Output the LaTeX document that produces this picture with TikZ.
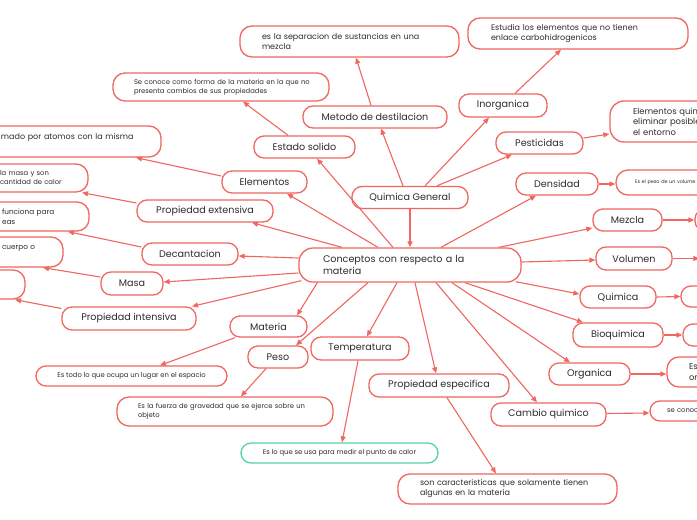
\documentclass[tikz,border=0pt]{standalone}
\usepackage{fontspec}
\setmainfont{Poppins}
\usetikzlibrary{arrows.meta}
\definecolor{bord}{RGB}{240,102,96}
\definecolor{grn}{RGB}{84,212,164}
\definecolor{txt}{RGB}{45,45,45}
\tikzset{
  box/.style={draw=bord, line width=1.3pt, fill=white, text=txt, inner sep=0pt},
  topic/.style={box, rounded corners=10pt, font=\fontsize{9.6}{12}\selectfont, align=center},
  desc/.style={box, rounded corners=12pt, align=left},
  fa/.style={font=\fontsize{8}{10}\selectfont},
  fb/.style={font=\fontsize{6.8}{9}\selectfont},
  arr/.style={draw=bord, line width=1.1pt, -{Triangle[length=6pt,width=5pt]}},
}
\newcommand{\bx}[4]{minimum width=#1pt, minimum height=#2pt}
\begin{document}
\begin{tikzpicture}[x=1pt,y=-1pt]
\useasboundingbox (0,0) rectangle (697,520);
\fill[white] (0,0) rectangle (697,520);
\clip (0,0) rectangle (697,520);
% central and main topics
\node[desc, font=\fontsize{9.6}{12}\selectfont, rounded corners=14pt, minimum height=34pt, text width=174pt, inner xsep=24pt] (C) at (410,265) {\mbox{Conceptos con respecto a la}\\\mbox{materia}};
\node[topic, minimum width=116pt, minimum height=22pt] (QG) at (410,197.5) {Quimica General};
\node[topic, minimum width=144pt, minimum height=22pt] (Met) at (375,117) {Metodo de destilacion};
\node[desc, fa, minimum height=31pt, text width=175pt, inner xsep=22pt] (Sep) at (349.5,41.5) {\mbox{es la separacion de sustancias en una}\\\mbox{mezcla}};
\node[topic, minimum width=88pt, minimum height=23pt] (Ino) at (503,105.5) {Inorganica};
\node[desc, fa, minimum height=31pt, text width=174pt, inner xsep=23pt] (Est) at (578,33.5) {\mbox{Estudia los elementos que no tienen}\\\mbox{enlace carbohidrogenicos}};
\node[topic, minimum width=87pt, minimum height=22pt] (Pes) at (539.5,143) {Pesticidas};
\node[desc, font=\fontsize{8.4}{10.5}\selectfont, rounded corners=14pt, minimum height=41pt, text width=84pt, inner xsep=23pt] (EQ) at (675,121.5) {\mbox{Elementos quim}\\\mbox{eliminar posible}\\\mbox{el entorno}};
\node[topic, minimum width=101pt, minimum height=22pt] (ES) at (304.5,147) {Estado solido};
\node[desc, fb, minimum height=28pt, text width=174pt, inner xsep=21pt] (SeC) at (221,87) {\mbox{Se conoce como forma de la materia en la que no}\\\mbox{presenta cambios de sus propiedades}};
\node[topic, minimum width=85pt, minimum height=22pt] (Ele) at (264.5,182) {Elementos};
\node[desc, fa, minimum height=31pt, text width=129pt, inner xsep=31pt] (Mad) at (65.5,141.5) {\mbox{mado por atomos con la misma}\\\mbox{}};
\node[topic, minimum width=136pt, minimum height=22pt] (PEx) at (205,211) {Propiedad extensiva};
\node[desc, fb, minimum height=28pt, text width=58pt, inner xsep=30pt] (Mas2) at (29,178) {\mbox{la masa y son}\\\mbox{cantidad de calor}};
\node[topic, minimum width=96pt, minimum height=22pt] (Dec) at (190,254) {Decantacion};
\node[desc, font=\fontsize{7.3}{10}\selectfont, minimum height=29pt, text width=55pt, inner xsep=32pt] (Fun) at (29.5,216.5) {\mbox{funciona para}\\\mbox{eas}};
\node[topic, minimum width=62pt, minimum height=23pt] (Masa) at (132,283.5) {Masa};
\node[desc, font=\fontsize{7.3}{10}\selectfont, minimum height=30pt, text width=29pt, inner xsep=32pt] (Cue) at (16.5,252) {\mbox{cuerpo o}\\\mbox{}};
\node[box, rounded corners=12pt, minimum width=55pt, minimum height=29pt] (Last) at (-2.5,284.5) {};
\node[topic, minimum width=134pt, minimum height=23pt] (PIn) at (129,318.5) {Propiedad intensiva};
\node[topic, minimum width=77pt, minimum height=21pt] (Mat) at (268.5,326.5) {Materia};
\node[box, fb, rounded corners=10pt, minimum width=191pt, minimum height=20pt] (Tod) at (131.5,376) {Es todo lo que ocupa un lugar en el espacio};
\node[topic, minimum width=60pt, minimum height=22pt] (Peso) at (278,357) {Peso};
\node[desc, fb, minimum height=29pt, text width=174pt, inner xsep=21pt] (Fue) at (225,411.5) {\mbox{Es la fuerza de gravedad que se ejerce sobre un}\\\mbox{objeto}};
\node[topic, minimum width=98pt, minimum height=23pt] (Tem) at (360,348.5) {Temperatura};
\node[box, fb, draw=grn, rounded corners=10pt, minimum width=197pt, minimum height=20pt] (Pun) at (339.5,453) {Es lo que se usa para medir el punto de calor};
\node[topic, minimum width=140pt, minimum height=23pt] (PEs) at (439,385.5) {Propiedad especifica};
\node[desc, fa, minimum height=30pt, text width=175pt, inner xsep=22pt] (Son) at (507.5,489) {\mbox{son caracteristicas que solamente tienen}\\\mbox{algunas en la materia}};
\node[topic, minimum width=115pt, minimum height=23pt] (Cam) at (548.5,414.5) {Cambio quimico};
\node[desc, fb, rounded corners=10pt, minimum height=20pt, text width=76pt, inner xsep=17pt] (SeK) at (705,411) {\mbox{se conoc}};
\node[topic, minimum width=81pt, minimum height=22pt] (Org) at (589.5,374) {Organica};
\node[desc, font=\fontsize{8.4}{11.5}\selectfont, minimum height=30pt, text width=49pt, inner xsep=22pt] (EsO) at (713.5,372) {\mbox{Es}\\\mbox{or}};
\node[topic, minimum width=90pt, minimum height=24pt] (Bio) at (618,335) {Bioquimica};
\node[box, rounded corners=10pt, minimum width=77pt, minimum height=22pt] (BioN) at (721.5,335) {};
\node[topic, minimum width=76pt, minimum height=22pt] (Qui) at (618,297) {Quimica};
\node[box, rounded corners=10pt, minimum width=79pt, minimum height=21pt] (QuiN) at (720.5,296.5) {};
\node[topic, minimum width=76pt, minimum height=23pt] (Vol) at (634,258.5) {Volumen};
\node[box, rounded corners=10pt, minimum width=80pt, minimum height=22pt] (VolN) at (740,258.5) {};
\node[topic, minimum width=69pt, minimum height=22pt] (Mez) at (627.5,220) {Mezcla};
\node[box, rounded corners=10pt, minimum width=75pt, minimum height=22pt] (MezN) at (732.5,220) {};
\node[topic, minimum width=82pt, minimum height=22pt] (Den) at (557,184) {Densidad};
\node[desc, font=\fontsize{4.9}{6}\selectfont, minimum height=25pt, text width=86pt, inner xsep=19pt] (PesV) at (678,182.5) {\mbox{Es el peso de un volume}};
% connectors
\draw[arr] (QG.south) -- (C.north);
\draw[arr] ([xshift=-7pt]QG.north) -- ([xshift=6pt]Met.south);
\draw[arr] ([xshift=-4pt]Met.north) -- ([xshift=6.5pt]Sep.south);
\draw[arr] ([xshift=15pt]QG.north) -- ([xshift=-14pt]Ino.south);
\draw[arr] ([xshift=12pt]Ino.north) -- ([xshift=-17pt]Est.south);
\draw[arr] ([xshift=27pt]QG.north) -- ([xshift=-27.5pt]Pes.south);
\draw[arr] ([yshift=5pt]Pes.east) -- ([yshift=-12.5pt]EQ.west);
\draw[arr] ([xshift=-17pt]C.north) -- ([xshift=12.5pt]ES.south);
\draw[arr] ([xshift=-16.5pt]ES.north) -- ([xshift=22pt]SeC.south);
\draw[arr] ([xshift=-32pt]C.north) -- ([xshift=22.5pt]Ele.south);
\draw[arr] ([yshift=6pt]Ele.west) -- ([xshift=70.5pt]Mad.south);
\draw[arr] ([xshift=-68pt]C.north) -- ([xshift=47pt]PEx.south);
\draw[arr] ([yshift=8pt]PEx.west) -- ([xshift=53pt]Mas2.south);
\draw[arr] ([yshift=7pt]C.west) -- ([yshift=-2pt]Dec.east);
\draw[arr] ([yshift=7pt]Dec.west) -- ([xshift=38.5pt]Fun.south);
\draw[arr] ([yshift=-8pt]C.west) -- ([yshift=1.5pt]Masa.east);
\draw[arr] ([yshift=6.5pt]Masa.west) -- ([xshift=26.5pt]Cue.south);
\draw[arr] ([xshift=3pt,yshift=2pt]C.south west) -- ([xshift=63pt]PIn.north);
\draw[arr] ([yshift=10pt]PIn.west) -- ([xshift=17.5pt]Last.south);
\draw[arr] ([xshift=19pt]C.south west) -- ([xshift=28.5pt]Mat.north);
\draw[arr] ([xshift=-33.5pt]Mat.south) -- ([xshift=28.5pt]Tod.north);
\draw[arr] ([xshift=-42pt]C.south) -- ([xshift=18pt]Peso.north);
\draw[arr] ([xshift=-12pt]Peso.south) -- ([xshift=16pt]Fue.north);
\draw[arr] ([xshift=-13pt]C.south) -- ([xshift=7pt]Tem.north);
\draw[arr] ([xshift=-2pt]Tem.south) -- ([xshift=2.5pt]Pun.north);
\draw[arr] ([xshift=5pt]C.south) -- ([xshift=-3pt]PEs.north);
\draw[arr] ([xshift=8pt]PEs.south) -- ([xshift=-11.5pt]Son.north);
\draw[arr] ([xshift=26pt]C.south) -- ([xshift=-11.5pt]Cam.north);
\draw[arr] ([yshift=1pt]Cam.east) -- ([yshift=-2pt]SeK.west);
\draw[arr] ([xshift=42pt]C.south) -- ([xshift=-19.5pt]Org.north);
\draw[arr] (Org.east) -- ([yshift=-2pt]EsO.west);
\draw[arr] ([xshift=55pt]C.south) -- ([xshift=-35pt]Bio.north);
\draw[arr] (Bio.east) -- (BioN.west);
\draw[arr] ([xshift=-6pt,yshift=1pt]C.south east) -- ([yshift=3pt]Qui.west);
\draw[arr] (Qui.east) -- (QuiN.west);
\draw[arr] ([yshift=3pt]C.east) -- ([yshift=-1.5pt]Vol.west);
\draw[arr] (Vol.east) -- (VolN.west);
\draw[arr] ([xshift=-23pt]C.north east) -- ([yshift=-8pt]Mez.west);
\draw[arr] (Mez.east) -- (MezN.west);
\draw[arr] ([xshift=31pt]C.north) -- ([xshift=-21pt]Den.south);
\draw[arr] (Den.east) -- ([yshift=-1.5pt]PesV.west);
\end{tikzpicture}
\end{document}
